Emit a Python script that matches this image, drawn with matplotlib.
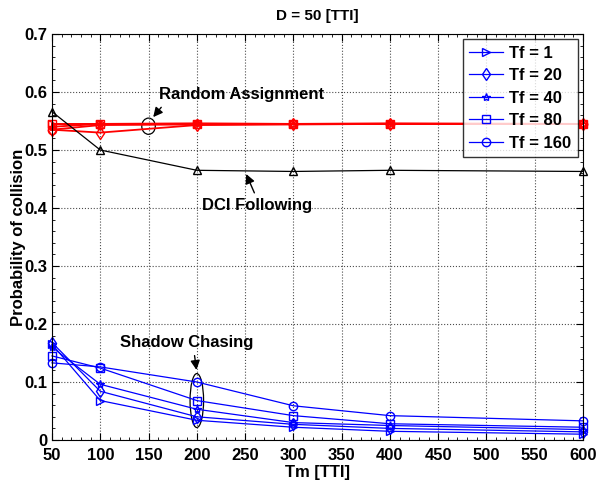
import matplotlib.pyplot as plt
from matplotlib.patches import Ellipse
from matplotlib.ticker import AutoMinorLocator

plt.rcParams['font.family'] = ['Liberation Sans', 'DejaVu Sans']
plt.rcParams['font.weight'] = 'bold'

tm = [50, 100, 200, 300, 400, 600]
tf_labels = ['Tf = 1', 'Tf = 20', 'Tf = 40', 'Tf = 80', 'Tf = 160']
markers = ['>', 'd', '*', 's', 'o']

# shadow chasing (blue)
shadow = [
    [0.165, 0.068, 0.034, 0.022, 0.015, 0.010],
    [0.168, 0.084, 0.040, 0.027, 0.020, 0.014],
    [0.160, 0.096, 0.053, 0.030, 0.025, 0.018],
    [0.145, 0.124, 0.068, 0.042, 0.028, 0.022],
    [0.133, 0.126, 0.100, 0.059, 0.042, 0.033],
]
# random assignment (red)
random_assign = [
    [0.545, 0.545, 0.545, 0.545, 0.545, 0.545],
    [0.535, 0.530, 0.543, 0.544, 0.545, 0.545],
    [0.540, 0.545, 0.546, 0.545, 0.546, 0.545],
    [0.545, 0.545, 0.545, 0.545, 0.545, 0.545],
    [0.535, 0.543, 0.544, 0.545, 0.545, 0.545],
]
# DCI following (black)
dci = [0.566, 0.500, 0.465, 0.463, 0.465, 0.463]

fig = plt.figure(figsize=(5.96, 4.87), dpi=100)
ax = fig.add_axes([52 / 596, 1 - 440 / 487, (583 - 52) / 596, (440 - 34) / 487])

for vals, m in zip(random_assign, markers):
    ax.plot(tm, vals, color='red', marker=m, mfc='none', ms=6, lw=1.3, clip_on=False)
ax.plot(tm, dci, color='black', marker='^', mfc='none', ms=6, lw=0.9, clip_on=False)
for vals, m, lab in zip(shadow, markers, tf_labels):
    ax.plot(tm, vals, color='blue', marker=m, mfc='none', ms=6, lw=0.9, label=lab,
            clip_on=False)

ax.set_xlim(50, 600)
ax.set_ylim(0, 0.7)
ax.set_xticks(range(50, 601, 50))
ax.set_yticks([0, 0.1, 0.2, 0.3, 0.4, 0.5, 0.6, 0.7])
ax.set_yticklabels(['0', '0.1', '0.2', '0.3', '0.4', '0.5', '0.6', '0.7'])
ax.xaxis.set_minor_locator(AutoMinorLocator(5))
ax.yaxis.set_minor_locator(AutoMinorLocator(5))
ax.tick_params(which='both', direction='in', top=True, right=True, labelsize=12)
ax.tick_params(which='major', length=5)
ax.tick_params(which='minor', length=2.5)
ax.tick_params(axis='x', pad=6)
ax.grid(True, which='major', linestyle=':', color='0.3', lw=0.8)

ax.set_title('D = 50 [TTI]', fontsize=11, fontweight='bold', pad=10)
ax.set_xlabel('Tm [TTI]', fontsize=12, fontweight='bold', labelpad=1)
ax.set_ylabel('Probability of collision', fontsize=12, fontweight='bold', labelpad=-1)

leg = ax.legend(loc='upper right', fontsize=12, frameon=True, fancybox=False,
                edgecolor='black', handlelength=2.0, borderaxespad=0.3,
                labelspacing=0.45, handletextpad=0.4, borderpad=0.4)
leg.get_frame().set_linewidth(1.0)

ap = dict(arrowstyle='-|>', color='black', lw=1.0, mutation_scale=14)
ax.add_patch(Ellipse((150, 0.541), 14, 0.028, fill=False, ec='black', lw=0.9))
ax.annotate('Random Assignment', xy=(153, 0.553), xytext=(246, 0.595),
            ha='center', va='center', fontsize=12, fontweight='bold',
            arrowprops=dict(ap, relpos=(0.04, 0.0)))
ax.annotate('DCI Following', xy=(250, 0.463), xytext=(262, 0.404),
            ha='center', va='center', fontsize=12, fontweight='bold',
            arrowprops=dict(ap, relpos=(0.5, 1.0)))
ax.add_patch(Ellipse((200, 0.068), 14, 0.093, fill=False, ec='black', lw=0.9))
ax.annotate('Shadow Chasing', xy=(200, 0.116), xytext=(190, 0.168),
            ha='center', va='center', fontsize=12, fontweight='bold',
            arrowprops=dict(ap, relpos=(0.55, 0.0)))

fig.savefig('out.png', dpi=100)
